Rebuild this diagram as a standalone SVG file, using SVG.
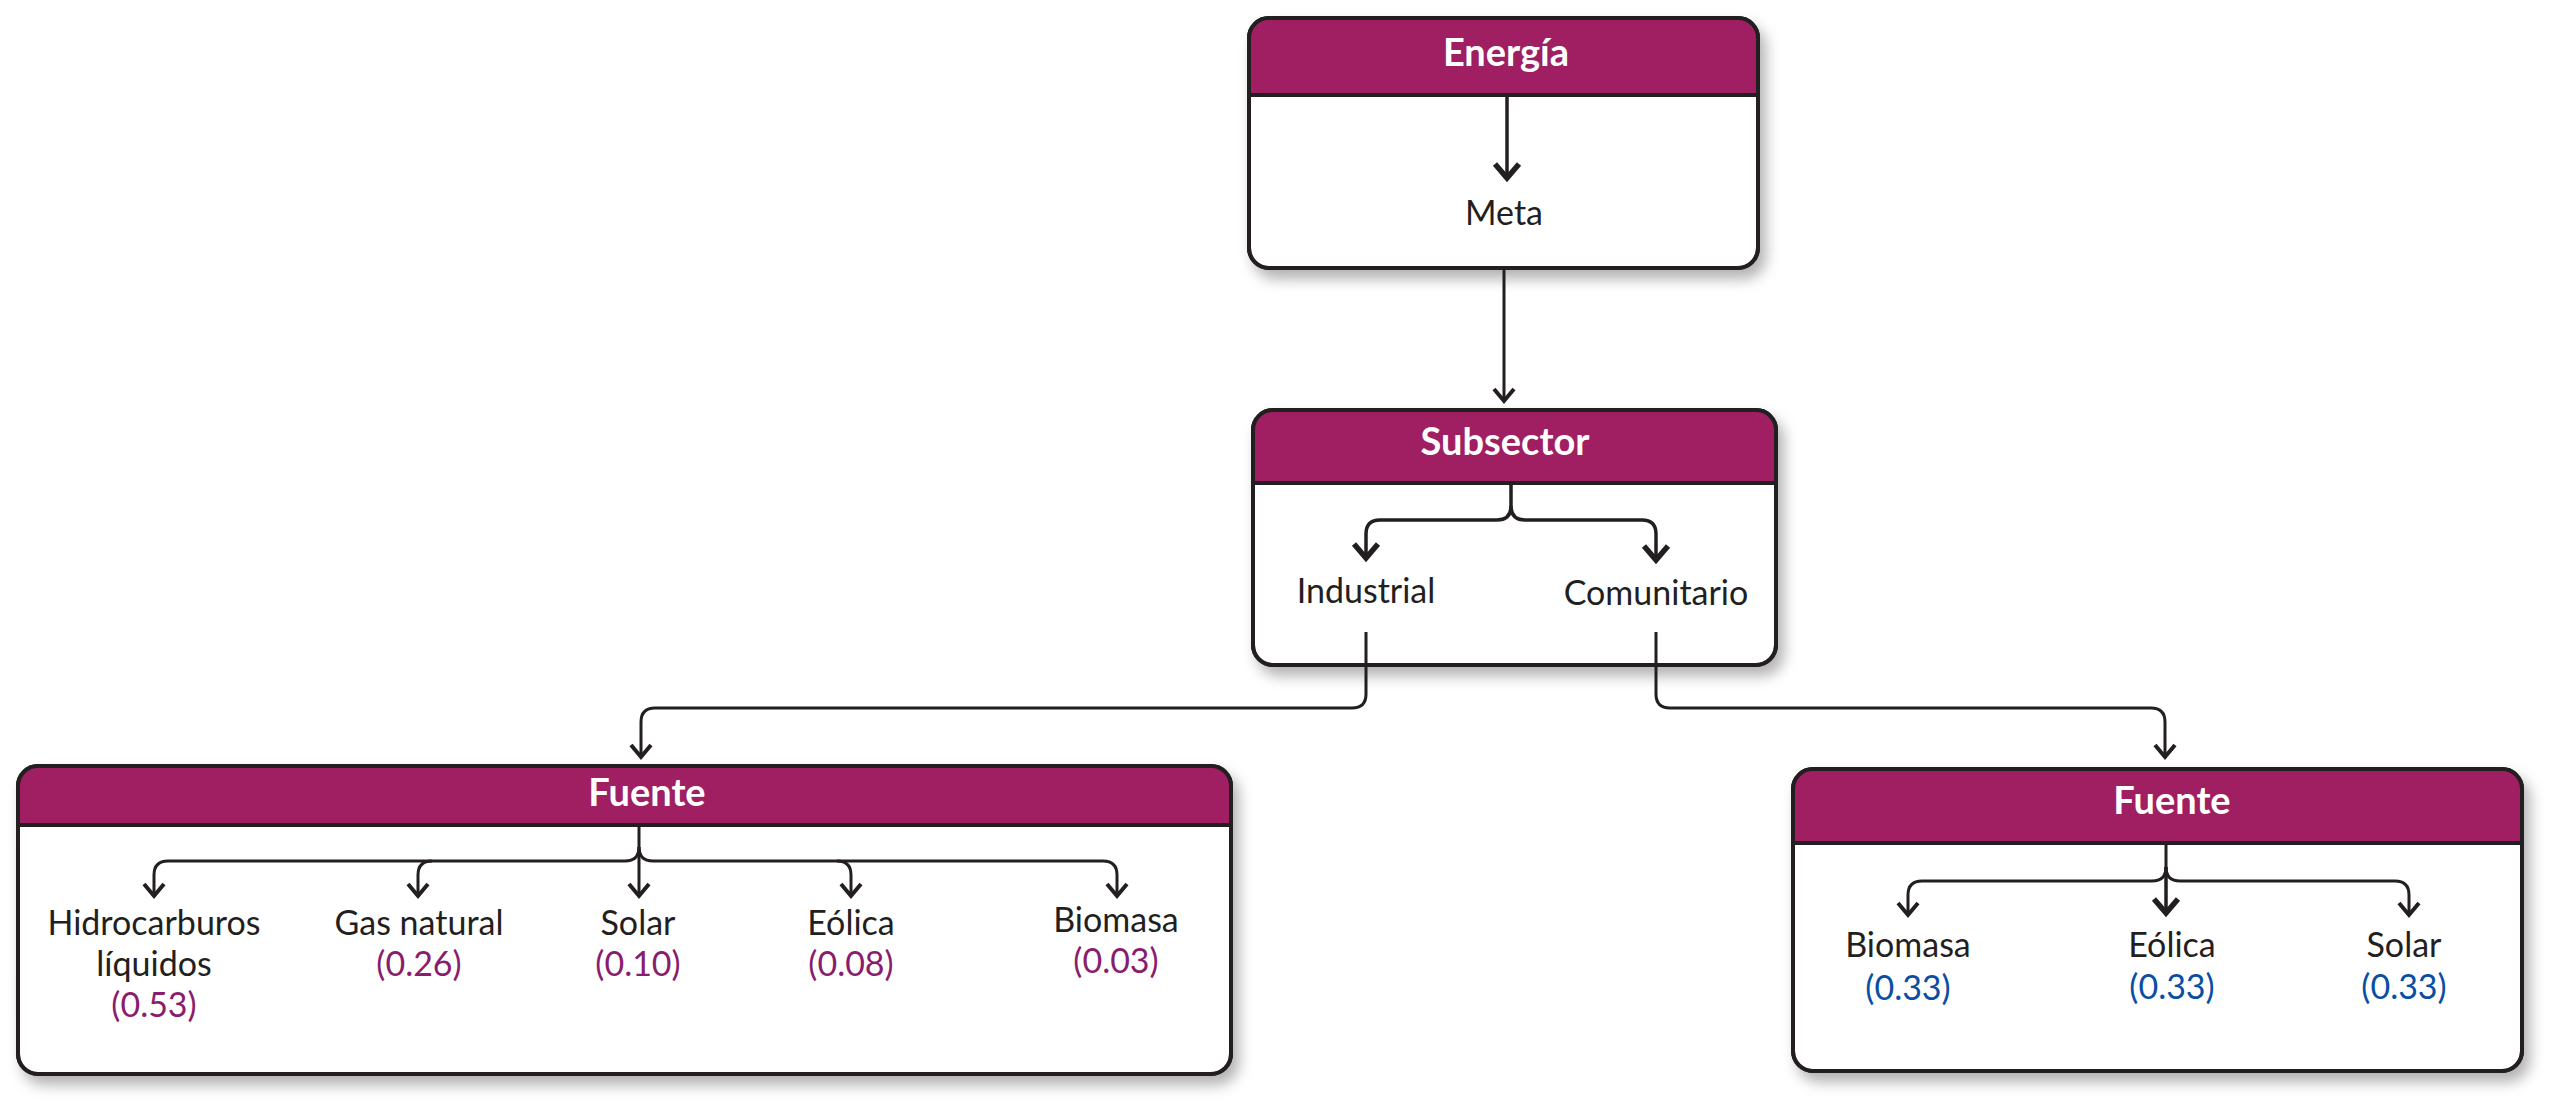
<svg xmlns="http://www.w3.org/2000/svg" width="2558" height="1109" viewBox="0 0 2558 1109">
<style>
.box{fill:#fff;stroke:#231F20;stroke-width:4}
.hdr{fill:#A01F62}
.sep{stroke:#231F20;stroke-width:4}
.outline{fill:none;stroke:#231F20;stroke-width:4}
.ht{font-family:Lato,"Liberation Sans",sans-serif;font-weight:bold;font-size:38px;fill:#fff;text-anchor:middle}
.t{font-family:Lato,"Liberation Sans",sans-serif;font-size:34px;fill:#231F20;text-anchor:middle}
.vp{fill:#8A1C6E}
.vb{fill:#0A4EA3}
.c{fill:none;stroke:#231F20;stroke-width:3}
.ci{fill:none;stroke:#231F20;stroke-width:3.5}
</style>
<defs>
<filter id="sh" x="-5%" y="-5%" width="115%" height="125%">
<feDropShadow dx="6" dy="9" stdDeviation="7" flood-color="#000" flood-opacity="0.3"/>
</filter>
<marker id="a" markerUnits="userSpaceOnUse" orient="auto" markerWidth="30" markerHeight="30" overflow="visible">
<path d="M-12,-10 L0,0 L-12,10" fill="none" stroke="#231F20" stroke-width="4"/>
</marker>
<marker id="ab" markerUnits="userSpaceOnUse" orient="auto" markerWidth="30" markerHeight="30" overflow="visible">
<path d="M-14,-12 L0,0 L-14,12" fill="none" stroke="#231F20" stroke-width="5.5"/>
</marker>
</defs>

<g id="energia">
<rect class="box" x="1249" y="18" width="509" height="250" rx="20" filter="url(#sh)"/>
<path class="hdr" d="M1249,95 V38 A20,20 0 0 1 1269,18 H1738 A20,20 0 0 1 1758,38 V95 Z"/>
<line class="sep" x1="1249" y1="95" x2="1758" y2="95"/>
<rect class="outline" x="1249" y="18" width="509" height="250" rx="20"/>
<text class="ht" x="1506" y="66">Energía</text>
<text class="t" x="1504" y="225">Meta</text>
</g>

<g id="subsector">
<rect class="box" x="1253" y="410" width="523" height="255" rx="20" filter="url(#sh)"/>
<path class="hdr" d="M1253,483 V430 A20,20 0 0 1 1273,410 H1756 A20,20 0 0 1 1776,430 V483 Z"/>
<line class="sep" x1="1253" y1="483" x2="1776" y2="483"/>
<rect class="outline" x="1253" y="410" width="523" height="255" rx="20"/>
<text class="ht" x="1505" y="455">Subsector</text>
<text class="t" x="1366" y="603">Industrial</text>
<text class="t" x="1656" y="605">Comunitario</text>
</g>

<g id="fuente-industrial">
<rect class="box" x="18" y="766" width="1213" height="308" rx="20" filter="url(#sh)"/>
<path class="hdr" d="M18,825 V786 A20,20 0 0 1 38,766 H1211 A20,20 0 0 1 1231,786 V825 Z"/>
<line class="sep" x1="18" y1="825" x2="1231" y2="825"/>
<rect class="outline" x="18" y="766" width="1213" height="308" rx="20"/>
<text class="ht" x="647" y="806">Fuente</text>
<text class="t" x="154" y="935">Hidrocarburos</text>
<text class="t" x="154" y="976">líquidos</text>
<text class="t vp" x="154" y="1017">(0.53)</text>
<text class="t" x="419" y="935">Gas natural</text>
<text class="t vp" x="419" y="976">(0.26)</text>
<text class="t" x="638" y="935">Solar</text>
<text class="t vp" x="638" y="976">(0.10)</text>
<text class="t" x="851" y="935">Eólica</text>
<text class="t vp" x="851" y="976">(0.08)</text>
<text class="t" x="1116" y="932">Biomasa</text>
<text class="t vp" x="1116" y="973">(0.03)</text>
</g>

<g id="fuente-comunitario">
<rect class="box" x="1793" y="769" width="729" height="302" rx="20" filter="url(#sh)"/>
<path class="hdr" d="M1793,843 V789 A20,20 0 0 1 1813,769 H2502 A20,20 0 0 1 2522,789 V843 Z"/>
<line class="sep" x1="1793" y1="843" x2="2522" y2="843"/>
<rect class="outline" x="1793" y="769" width="729" height="302" rx="20"/>
<text class="ht" x="2172" y="814">Fuente</text>
<text class="t" x="1908" y="957">Biomasa</text>
<text class="t vb" x="1908" y="1000">(0.33)</text>
<text class="t" x="2172" y="957">Eólica</text>
<text class="t vb" x="2172" y="999">(0.33)</text>
<text class="t" x="2404" y="957">Solar</text>
<text class="t vb" x="2404" y="999">(0.33)</text>
</g>

<g id="connectors">
<path class="ci" d="M1507,95 V178" marker-end="url(#ab)"/>
<path class="c" d="M1504,268 V401" marker-end="url(#a)"/>
<path class="ci" d="M1511,483 V506 Q1511,520 1497,520 H1380 Q1366,520 1366,534 V558" marker-end="url(#ab)"/>
<path class="ci" d="M1511,506 Q1511,520 1525,520 H1642 Q1656,520 1656,534 V560" marker-end="url(#ab)"/>
<path class="c" d="M1366,632 V694 Q1366,708 1352,708 H655 Q641,708 641,722 V757" marker-end="url(#a)"/>
<path class="c" d="M1656,632 V694 Q1656,708 1670,708 H2151 Q2165,708 2165,722 V757" marker-end="url(#a)"/>
<path class="c" d="M639,825 V847 Q639,861 625,861 H168 Q154,861 154,875 V896" marker-end="url(#a)"/>
<path class="c" d="M432,861 Q418,861 418,875 V896" marker-end="url(#a)"/>
<path class="c" d="M639,847 V896" marker-end="url(#a)"/>
<path class="c" d="M639,847 Q639,861 653,861 H1103 Q1117,861 1117,875 V896" marker-end="url(#a)"/>
<path class="c" d="M837,861 Q851,861 851,875 V896" marker-end="url(#a)"/>
<path class="c" d="M2166,843 V867 Q2166,881 2152,881 H1922 Q1908,881 1908,895 V915" marker-end="url(#a)"/>
<path class="c" d="M2166,867 Q2166,881 2180,881 H2395 Q2409,881 2409,895 V915" marker-end="url(#a)"/>
<path class="ci" d="M2166,867 V913" marker-end="url(#ab)"/>
</g>
</svg>
